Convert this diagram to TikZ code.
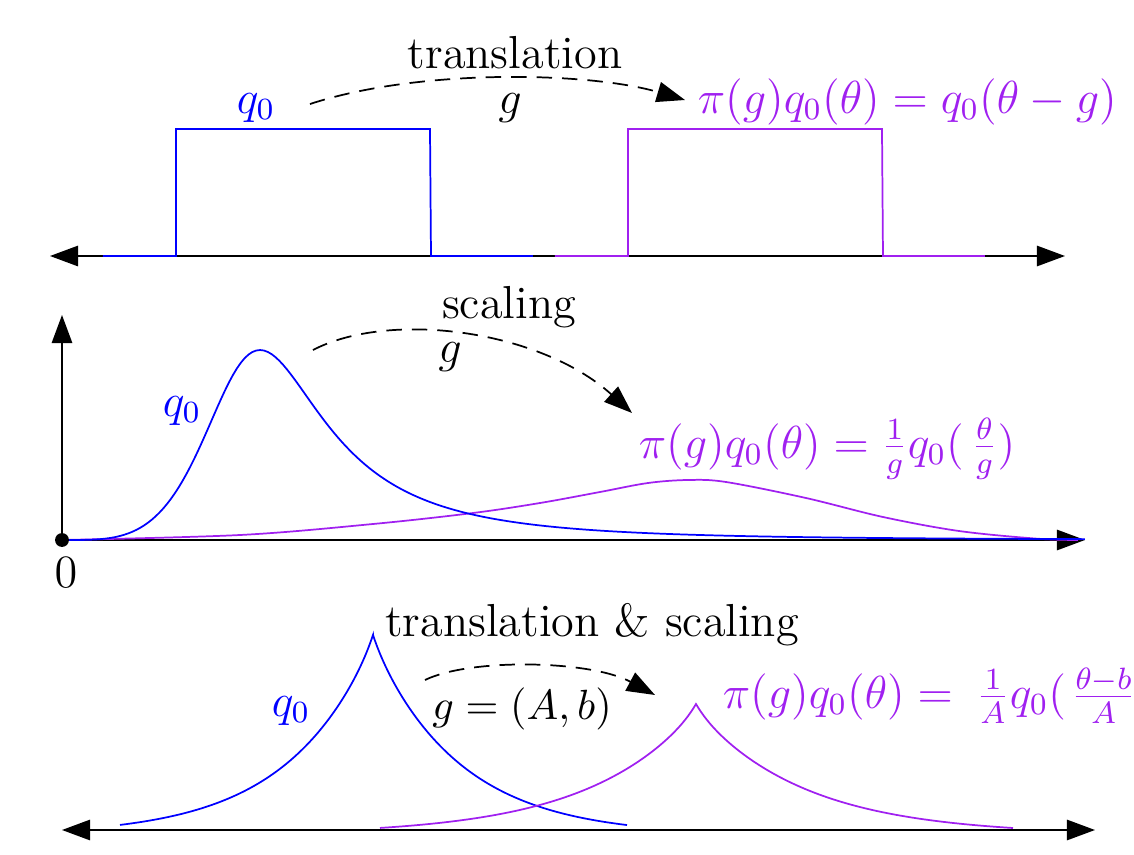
\documentclass[tikz,border=0pt]{standalone}
\usetikzlibrary{arrows.meta}
\definecolor{qblue}{RGB}{0,0,255}
\definecolor{qpurple}{RGB}{160,32,240}
\begin{document}
\begin{tikzpicture}[x=0.2592pt,y=-0.2592pt,
  >={Triangle[length=7.3pt,width=5.3pt]},
  axis/.style={black, line width=0.45pt},
  curve/.style={line width=0.45pt},
  lbl/.style={anchor=base, inner sep=0pt, font=\large},
  flbl/.style={anchor=base west, inner sep=0pt, font=\large, text=qpurple},
  dashedarrow/.style={->, line width=0.45pt, dash pattern=on 4pt off 2.6pt}]
\useasboundingbox (0,0) rectangle (1134,855);
\clip (0,0) rectangle (1134,855);

% ---------- top panel: translation ----------
\coordinate (tL) at (50,256);
\coordinate (tR) at (1065,256);
\draw[axis,<->] (tL) -- (tR);
\draw[curve,qblue] (103,256) -- (176,256) -- (176,129) -- (430,129) -- (431,256) -- (533,256);
\draw[curve,qpurple] (555,256) -- (628,256) -- (628,129) -- (882,129) -- (883,256) -- (985,256);
\node[lbl, text=qblue] (q0a) at (256,113) {$q_0$};
\node[lbl] (tra) at (515,68) {translation};
\node[lbl] (ga) at (510,113) {$g$};
\node[flbl] (fa) at (697,113) {$\pi(g)q_0(\theta) = q_0(\theta - g)$};
\coordinate (da1) at (310,104);
\coordinate (da2) at (685,100);
\draw[dashedarrow] (da1) .. controls (420,68) and (590,72) .. (da2);

% ---------- middle panel: scaling ----------
\coordinate (o) at (62,540);
\coordinate (vt) at (62,315);
\coordinate (hr) at (1085,540);
\draw[axis,->] (o) -- (vt);
\draw[axis,->] (o) -- (hr);
\draw[curve,qpurple] plot[smooth, tension=0.55] coordinates {(62,540) (240,535) (373,524) (473,513) (540,503) (600,492) (648,483) (688,480) (726,482) (806,498) (883,517) (959,531) (1036,538.6) (1078,540)};
\draw[curve,qblue] (o) -- plot[domain=20:1023, samples=260] ({62+\x},{540-190/cosh(3.7*ln(\x/198))});
\fill (o) circle[radius=1.8pt];
\node[lbl] (zero) at (66,587) {$0$};
\node[lbl, text=qblue] (q0b) at (182,416) {$q_0$};
\node[lbl] (sca) at (509,318) {scaling};
\node[lbl] (gb) at (450,362) {$g$};
\node[flbl] (fb) at (638,458) {$\pi(g)q_0(\theta) = \frac{1}{g}q_0(\mkern3mu\frac{\theta}{g})$};
\coordinate (db1) at (313,350);
\coordinate (db2) at (632,413);
\draw[dashedarrow] (db1) .. controls (390,310) and (540,330) .. (db2);

% ---------- bottom panel: translation & scaling ----------
\coordinate (bL) at (62,830);
\coordinate (bR) at (1095,830);
\draw[axis,<->] (bL) -- (bR);
\draw[curve,qblue] plot[domain=120:373, samples=120] ({\x},{825-182*(exp(-(373-\x)/88)-0.056)/0.944-8*exp(-(373-\x)/10)})
  -- plot[domain=373:627, samples=120] ({\x},{825-182*(exp(-(\x-373)/88)-0.056)/0.944-8*exp(-(\x-373)/10)});
\draw[curve,qpurple] plot[domain=380:696, samples=120] ({\x},{828-117*(exp(-(696-\x)/110)-0.056)/0.944-7*exp(-(696-\x)/12)})
  -- plot[domain=696:1013, samples=120] ({\x},{828-117*(exp(-(\x-696)/110)-0.056)/0.944-7*exp(-(\x-696)/12)});
\node[lbl] (trs) at (592,636) {translation \& scaling};
\node[lbl, text=qblue] (q0c) at (291,716) {$q_0$};
\node[anchor=base, inner sep=0pt, font=\fontsize{10.8}{13}\selectfont] (gc) at (522,719) {$g = (A,b)$};
\node[flbl] (fc) at (722,708) {$\pi(g)q_0(\theta) = \mkern4mu\frac{1}{A}q_0(\mkern2mu\frac{\theta-b}{A})$};
\coordinate (dc1) at (425,680);
\coordinate (dc2) at (655,695);
\draw[dashedarrow] (dc1) .. controls (470,658) and (590,660) .. (dc2);
\end{tikzpicture}
\end{document}
